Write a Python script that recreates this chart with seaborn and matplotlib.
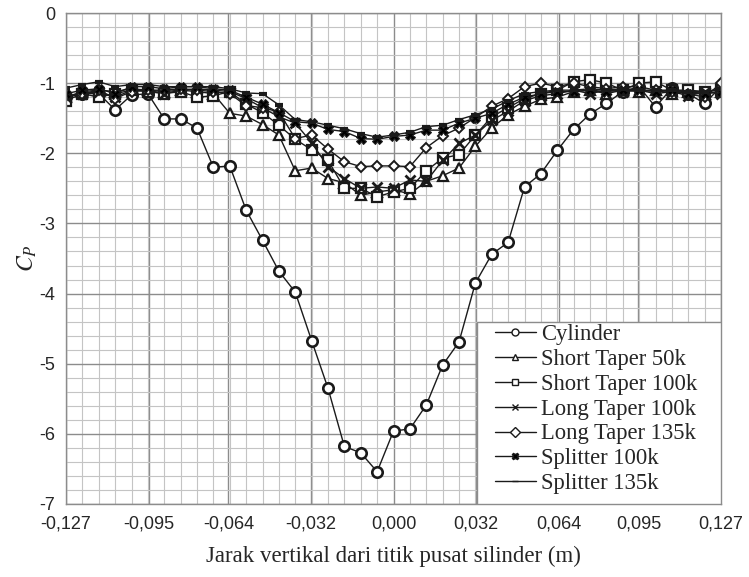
import numpy as np
import pandas as pd
import matplotlib
matplotlib.use("Agg")
import matplotlib.pyplot as plt
from matplotlib.ticker import MultipleLocator, FixedLocator
from matplotlib.patches import Rectangle
import seaborn as sns

# pressure tap positions (m)
x_pos = [round(-0.127 + 0.00635 * k, 5) for k in range(41)]

cylinder = [-1.2, -1.15, -1.15, -1.38, -1.17, -1.15, -1.51, -1.51, -1.64, -2.2,
            -2.18, -2.81, -3.24, -3.68, -3.98, -4.67, -5.35, -6.18, -6.27, -6.54,
            -5.96, -5.93, -5.59, -5.02, -4.69, -3.85, -3.44, -3.27, -2.48, -2.29,
            -1.96, -1.66, -1.44, -1.29, -1.12, -1.05, -1.34, -1.07, -1.15, -1.29, -1.05]
short_50k = [-1.2, -1.12, -1.1, -1.12, -1.08, -1.1, -1.12, -1.1, -1.12, -1.15,
             -1.43, -1.47, -1.59, -1.74, -2.25, -2.21, -2.36, -2.42, -2.6, -2.55,
             -2.52, -2.58, -2.4, -2.32, -2.21, -1.9, -1.64, -1.45, -1.33, -1.23,
             -1.2, -1.12, -1.1, -1.15, -1.1, -1.12, -1.1, -1.15, -1.12, -1.15, -1.12]
short_100k = [-1.25, -1.15, -1.2, -1.15, -1.1, -1.12, -1.15, -1.12, -1.2, -1.18,
              -1.12, -1.3, -1.42, -1.6, -1.8, -1.95, -2.1, -2.5, -2.5, -2.62,
              -2.55, -2.5, -2.25, -2.07, -2.02, -1.74, -1.48, -1.35, -1.22, -1.15,
              -1.1, -0.98, -0.95, -1.0, -1.1, -1.0, -0.98, -1.1, -1.1, -1.12, -1.1]
long_100k = [-1.2, -1.15, -1.12, -1.2, -1.1, -1.1, -1.15, -1.1, -1.08, -1.1,
             -1.12, -1.22, -1.35, -1.48, -1.57, -1.85, -2.19, -2.36, -2.5, -2.48,
             -2.5, -2.38, -2.4, -2.1, -1.86, -1.74, -1.53, -1.4, -1.25, -1.18,
             -1.15, -1.1, -1.15, -1.1, -1.12, -1.1, -1.15, -1.12, -1.18, -1.12, -1.15]
long_135k = [-1.18, -1.15, -1.1, -1.22, -1.12, -1.1, -1.1, -1.08, -1.1, -1.12,
             -1.15, -1.32, -1.35, -1.41, -1.79, -1.74, -1.94, -2.12, -2.19, -2.18,
             -2.18, -2.19, -1.92, -1.75, -1.64, -1.49, -1.33, -1.22, -1.05, -1.0,
             -1.05, -1.0, -1.05, -1.08, -1.05, -1.05, -1.1, -1.12, -1.15, -1.2, -1.0]
splitter_100k = [-1.15, -1.1, -1.08, -1.15, -1.05, -1.05, -1.08, -1.05, -1.05, -1.08,
                 -1.1, -1.2, -1.3, -1.42, -1.55, -1.57, -1.66, -1.69, -1.79, -1.8,
                 -1.76, -1.74, -1.67, -1.67, -1.57, -1.5, -1.43, -1.3, -1.2, -1.15,
                 -1.12, -1.12, -1.1, -1.12, -1.1, -1.1, -1.12, -1.1, -1.15, -1.15, -1.12]
splitter_135k = [-1.07, -1.02, -0.98, -1.05, -1.02, -1.02, -1.05, -1.05, -1.05, -1.05,
                 -1.08, -1.14, -1.15, -1.31, -1.52, -1.55, -1.6, -1.65, -1.72, -1.77,
                 -1.74, -1.7, -1.62, -1.6, -1.52, -1.45, -1.37, -1.25, -1.15, -1.12,
                 -1.1, -1.1, -1.08, -1.1, -1.08, -1.1, -1.1, -1.1, -1.12, -1.12, -1.08]

series_names = ["Cylinder", "Short Taper 50k", "Short Taper 100k", "Long Taper 100k",
                "Long Taper 135k", "Splitter 100k", "Splitter 135k"]
series_vals = [cylinder, short_50k, short_100k, long_100k, long_135k,
               splitter_100k, splitter_135k]

x_ticks = [-0.127, -0.095, -0.064, -0.032, 0.0, 0.032, 0.064, 0.095, 0.127]
x_tick_labels = ["-0,127", "-0,095", "-0,064", "-0,032", "0,000", "0,032", "0,064", "0,095", "0,127"]
y_ticks = [0, -1, -2, -3, -4, -5, -6, -7]

sns.set_theme(style="white")
plt.rcParams['font.family'] = ['Liberation Serif', 'DejaVu Serif']
plt.rcParams['mathtext.fontset'] = 'stix'

fig = plt.figure(figsize=(7.49, 5.77), dpi=100)
ax = fig.add_axes([66/749, 1 - 504/577, (721-66)/749, (504-13)/577])

styles = {
    "Cylinder": dict(marker='o', markersize=7.5, markerfacecolor='white', markeredgewidth=1.9),
    "Short Taper 50k": dict(marker='^', markersize=7.5, markerfacecolor='white', markeredgewidth=1.6),
    "Short Taper 100k": dict(marker='s', markersize=7.5, markerfacecolor='white', markeredgewidth=1.6),
    "Long Taper 100k": dict(marker='x', markersize=7, markeredgewidth=2.0),
    "Long Taper 135k": dict(marker='D', markersize=5.5, markerfacecolor='white', markeredgewidth=1.4),
    "Splitter 100k": dict(marker='X', markersize=7, markerfacecolor='black', markeredgewidth=0.8),
    "Splitter 135k": dict(marker='_', markersize=6, markeredgewidth=3.0),
}

for name, vals in zip(series_names, series_vals):
    df = pd.DataFrame({"x": x_pos, "y": vals})
    sns.lineplot(data=df, x="x", y="y", ax=ax, color='#1a1a1a', linewidth=1.0,
                 markeredgecolor='#1a1a1a', label=name, sort=False, **styles[name])

ax.set_xlim(-0.127, 0.127)
ax.set_ylim(-7, 0)
ax.xaxis.set_major_locator(FixedLocator(x_ticks))
ax.set_xticklabels(x_tick_labels)
ax.xaxis.set_minor_locator(FixedLocator(x_pos))
ax.yaxis.set_major_locator(FixedLocator(y_ticks))
ax.set_yticklabels([str(v) for v in y_ticks])
ax.yaxis.set_minor_locator(MultipleLocator(0.2))

ax.grid(which='major', color='#8c8c8c', linewidth=1.0)
ax.grid(which='minor', color='#c4c4c4', linewidth=0.8)
ax.set_axisbelow(True)
ax.tick_params(which='both', length=0)
ax.tick_params(axis='both', labelsize=13, pad=8)
for lab in ax.get_xticklabels() + ax.get_yticklabels():
    lab.set_fontfamily('Liberation Sans')
for s in ax.spines.values():
    s.set_color('#8c8c8c')
    s.set_linewidth(1.0)

ax.set_xlabel("Jarak vertikal dari titik pusat silinder (m)", fontsize=16.5, labelpad=10)
ax.set_ylabel(r"$C_P$", fontsize=17, labelpad=0)

# legend box
ax.add_patch(Rectangle((0.6275, 0.0), 0.3725, 0.3707, transform=ax.transAxes,
                       facecolor='white', edgecolor='#8c8c8c', linewidth=1.0, zorder=4))

leg = ax.legend(loc='upper left', bbox_to_anchor=(0.655, 0.3665), borderaxespad=0,
                frameon=False, fontsize=16.3,
                handlelength=1.8, handletextpad=0.25, labelspacing=0.17,
                borderpad=0.0)
leg.set_zorder(5)
for h in leg.legend_handles:
    h.set_markersize(5)
    h.set_markeredgewidth(1.0)

fig.savefig("out.png", dpi=100)
